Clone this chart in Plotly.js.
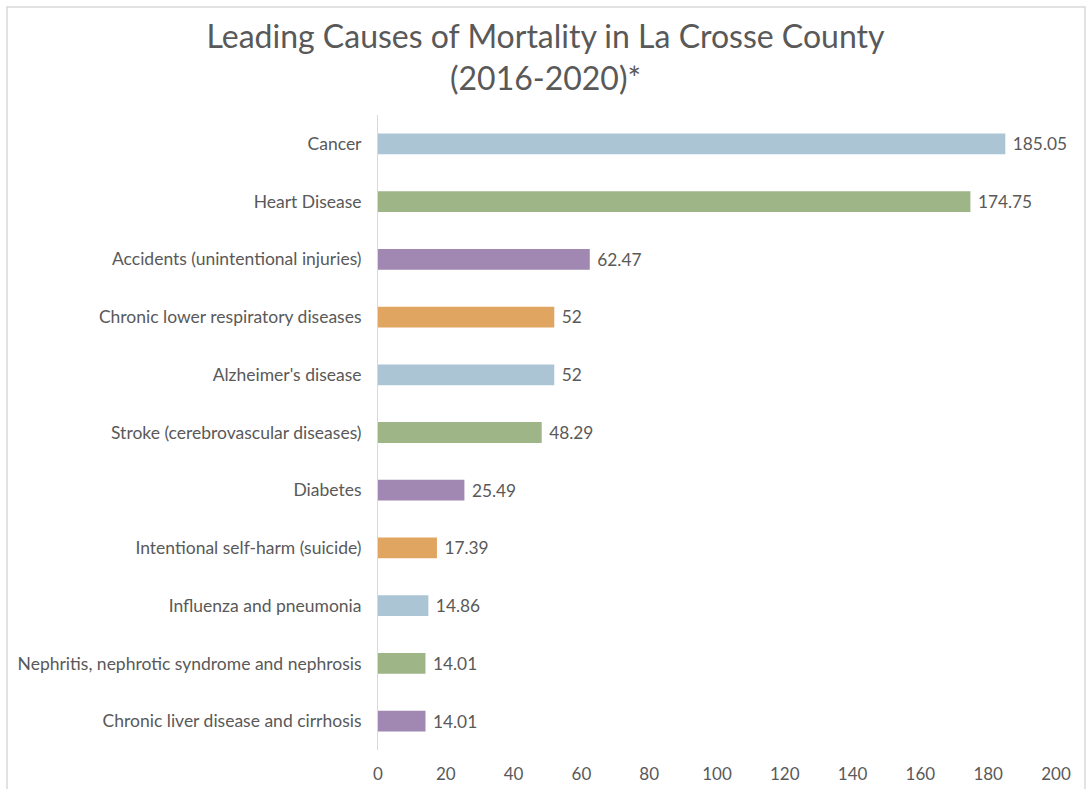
<!DOCTYPE html>
<html>
<head>
<meta charset="utf-8">
<script src="https://cdn.plot.ly/plotly-3.0.1.min.js"></script>
<style>
  html, body { margin: 0; padding: 0; background: #fff; }
  #chart { width: 1091px; height: 789px; }
</style>
</head>
<body>
<div id="chart"></div>
<script>
const causes = [
  'Cancer',
  'Heart Disease',
  'Accidents (unintentional injuries)',
  'Chronic lower respiratory diseases',
  "Alzheimer's disease",
  'Stroke (cerebrovascular diseases)',
  'Diabetes',
  'Intentional self-harm (suicide)',
  'Influenza and pneumonia',
  'Nephritis, nephrotic syndrome and nephrosis',
  'Chronic liver disease and cirrhosis'
];
const rates = [185.05, 174.75, 62.47, 52, 52, 48.29, 25.49, 17.39, 14.86, 14.01, 14.01];
const palette = ['#abc5d4', '#9db587', '#a088b2', '#e1a562'];
const xTicks = [0, 20, 40, 60, 80, 100, 120, 140, 160, 180, 200];

const textColor = '#595959';
const W = 1091, H = 789;
const margin = { l: 378, r: 35, t: 115, b: 39 };
const pw = W - margin.l - margin.r, ph = H - margin.t - margin.b;
const px = x => (x - margin.l) / pw;
const py = y => 1 - (y - margin.t) / ph;

const trace = {
  type: 'bar',
  orientation: 'h',
  y: causes,
  x: rates,
  marker: { color: causes.map((c, i) => palette[i % palette.length]) },
  text: rates.map(v => '\u00a0' + v),
  textposition: 'outside',
  cliponaxis: false,
  textfont: { family: 'Lato, sans-serif', size: 17.5, color: textColor },
  hoverinfo: 'x+y'
};

const layout = {
  width: W,
  height: H,
  margin: margin,
  paper_bgcolor: '#fff',
  plot_bgcolor: '#fff',
  showlegend: false,
  bargap: 0.64,
  font: { family: 'Lato, sans-serif', color: textColor },
  title: {
    text: 'Leading Causes of Mortality in La Crosse County<br>(2016-2020)*',
    font: { family: 'Lato, sans-serif', size: 32, color: textColor },
    x: 0.5,
    xref: 'container',
    xanchor: 'center',
    y: 1 - 48 / H,
    yref: 'container',
    yanchor: 'middle'
  },
  xaxis: {
    range: [0, 200],
    tickvals: xTicks,
    ticktext: xTicks.map(String),
    showgrid: false,
    zeroline: false,
    showline: false,
    ticks: '',
    ticklabelstandoff: 12,
    tickfont: { size: 17, color: textColor },
    fixedrange: true
  },
  yaxis: {
    autorange: 'reversed',
    showgrid: false,
    zeroline: false,
    showline: true,
    linecolor: '#d9d9d9',
    linewidth: 1,
    ticks: '',
    ticklabelstandoff: 12,
    tickfont: { size: 17.5, color: textColor },
    fixedrange: true
  },
  shapes: [
    {
      type: 'rect', xref: 'paper', yref: 'paper',
      x0: px(7), x1: px(1085), y0: py(800), y1: py(7),
      line: { color: '#d9d9d9', width: 1.5 },
      fillcolor: 'rgba(0,0,0,0)',
      layer: 'below'
    }
  ]
};

Plotly.newPlot('chart', [trace], layout, { displayModeBar: false, responsive: false });
</script>
</body>
</html>
